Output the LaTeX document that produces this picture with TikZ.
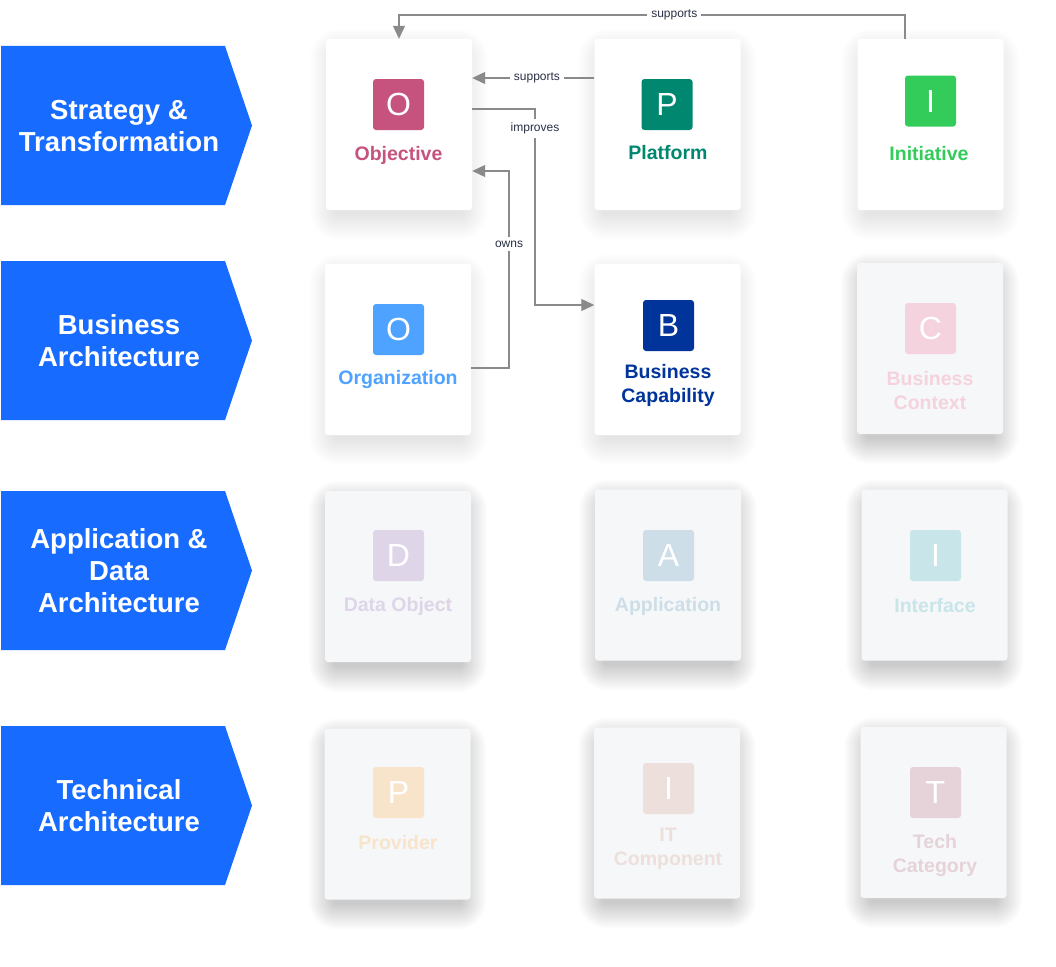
\documentclass[tikz,border=0pt]{standalone}
\usepackage{fontspec}
\setmainfont{Liberation Sans}
\usetikzlibrary{arrows.meta}
\pgfdeclarelayer{paper}
\pgfdeclarelayer{shade}
\pgfsetlayers{paper,shade,main}
\definecolor{chev}{HTML}{176BFF}
\definecolor{linegray}{HTML}{8A8A8A}
\definecolor{navy}{HTML}{2A3045}
\definecolor{fadebg}{HTML}{F6F7F8}
\definecolor{shadowc}{HTML}{1E2A4A}
\definecolor{cObj}{HTML}{C6537D}
\definecolor{cPlat}{HTML}{00876F}
\definecolor{cIni}{HTML}{33CC5A}
\definecolor{cOrg}{HTML}{4DA3FF}
\definecolor{cBcap}{HTML}{00349A}
\definecolor{cBctx}{HTML}{F5D3DE}
\definecolor{cDobj}{HTML}{DFD5E8}
\definecolor{cApp}{HTML}{CDDEE8}
\definecolor{cIntf}{HTML}{C8E5EA}
\definecolor{cProv}{HTML}{F8E4CB}
\definecolor{cItc}{HTML}{EDDFDB}
\definecolor{cTcat}{HTML}{E5D3D9}
\tikzset{
  card/.style={fill=white, rounded corners=3pt, minimum width=146pt, minimum height=171pt, inner sep=0pt},
  fcard/.style={card, fill=fadebg},
  icon/.style={rounded corners=3pt, minimum size=51pt, inner sep=0pt, text=white, font=\fontsize{32}{32}\selectfont},
  lab/.style={font=\bfseries\fontsize{19.5}{24}\selectfont, align=center, inner sep=0pt},
  chevtext/.style={font=\bfseries\fontsize{27.5}{32}\selectfont, text=white, align=center, inner sep=0pt},
  conn/.style={draw=linegray, line width=1.1pt, -{Triangle[length=13pt,width=12pt]}},
  elab/.style={fill=white, font=\fontsize{12}{12}\selectfont, text=navy, inner sep=4pt},
}
\newcommand{\cardshadow}[2]{%
  \foreach \i in {1,...,26}{%
    \pgfmathsetmacro{\rc}{3+\i}%
    \fill[shadowc, opacity=#2, rounded corners=\rc pt]
      ([shift={({10-\i},{16-\i})}]#1.north west) rectangle ([shift={({\i-10},{4+\i})}]#1.south east);
  }%
}
\begin{document}
\begin{tikzpicture}[x=1pt,y=-1pt]
\begin{pgfonlayer}{paper}
\fill[white] (0,0) rectangle (1056,966);
\end{pgfonlayer}
\useasboundingbox (0,0) rectangle (1056,966);

% chevrons
\foreach \nm/\t/\b in {ch1/46/205, ch2/261/420, ch3/491/650, ch4/726/885}{
  \fill[chev] (1,\t) -- (225,\t) -- (252,{(\t+\b)/2}) -- (225,\b) -- (1,\b) -- cycle;
}
\node[chevtext] (c1) at (119,126) {Strategy \&\\Transformation};
\node[chevtext] (c2) at (119,341) {Business\\Architecture};
\node[chevtext] (c3) at (119,571) {Application \&\\Data\\Architecture};
\node[chevtext] (c4) at (119,806) {Technical\\Architecture};

% cards
\node[card] (obj) at (399,124.5) {};
\node[card] (plat) at (667.5,124.5) {};
\node[card] (ini) at (930.5,124.5) {};
\node[card] (org) at (398,349.5) {};
\node[card] (bcap) at (667.5,349.5) {};
\node[fcard] (bctx) at (930,348.5) {};
\node[fcard] (dobj) at (398,576.5) {};
\node[fcard] (app) at (668,575) {};
\node[fcard] (intf) at (934.5,575) {};
\node[fcard] (prov) at (397.5,814) {};
\node[fcard] (itc) at (667,813) {};
\node[fcard] (tcat) at (933.5,812.5) {};

\begin{pgfonlayer}{shade}
  \foreach \c in {obj,plat,ini,org,bcap}{\cardshadow{\c}{0.0045}}
  \foreach \c in {bctx,dobj,app,intf,prov,itc,tcat}{\cardshadow{\c}{0.008}}
\end{pgfonlayer}

% icons and labels
\node[icon, fill=cObj] (iobj) at (398.5,104.5) {O};
\node[lab, text=cObj] (lobj) at (398.5,155) {Objective};
\node[icon, fill=cPlat] (iplat) at (667,104.5) {P};
\node[lab, text=cPlat] (lplat) at (668,153) {Platform};
\node[icon, fill=cIni] (iini) at (930.5,101) {I};
\node[lab, text=cIni] (lini) at (929,154) {Initiative};
\node[icon, fill=cOrg] (iorg) at (398.5,329.5) {O};
\node[lab, text=cOrg] (lorg) at (398,379) {Organization};
\node[icon, fill=cBcap] (ibcap) at (668.5,325.5) {B};
\node[lab, text=cBcap] (lbcap) at (668,385) {Business\\Capability};
\node[icon, fill=cBctx] (ibctx) at (930.5,328.5) {C};
\node[lab, text=cBctx] (lbctx) at (930,391) {Business\\Context};
\node[icon, fill=cDobj] (idobj) at (398.5,555.5) {D};
\node[lab, text=cDobj] (ldobj) at (398,606) {Data Object};
\node[icon, fill=cApp] (iapp) at (668.5,555.5) {A};
\node[lab, text=cApp] (lapp) at (668,606) {Application};
\node[icon, fill=cIntf] (iintf) at (935.5,555.5) {I};
\node[lab, text=cIntf] (lintf) at (935,606) {Interface};
\node[icon, fill=cProv] (iprov) at (398.5,792.5) {P};
\node[lab, text=cProv] (lprov) at (398,843) {Provider};
\node[icon, fill=cItc] (iitc) at (668.5,788.5) {I};
\node[lab, text=cItc] (litc) at (668,849) {IT\\Component};
\node[icon, fill=cTcat] (itcat) at (935.5,792.5) {T};
\node[lab, text=cTcat] (ltcat) at (935,855) {Tech\\Category};

% connectors
\coordinate (t1) at (905,15);
\coordinate (t2) at (399,15);
\draw[conn] (ini.north -| t1) -- (t1) -- node[elab, pos=0.456] (e1) {supports} (t2) -- (obj.north);

\draw[conn] ([yshift=46.5pt]plat.west) -- node[elab, pos=0.47] (e2) {supports} ([yshift=46.5pt]obj.east);

\coordinate (i1) at (535,109);
\coordinate (i2) at (535,305);
\draw[conn] ([yshift=15.5pt]obj.east) -- (i1) -- node[elab, pos=0.1] (e3) {improves} (i2) -- ([yshift=44.5pt]bcap.west);

\coordinate (o1) at (509,368);
\coordinate (o2) at (509,171);
\draw[conn] ([yshift=-18.5pt]org.east) -- (o1) -- node[elab, pos=0.63] (e4) {owns} (o2) -- ([yshift=-46.5pt]obj.east);
\end{tikzpicture}
\end{document}
